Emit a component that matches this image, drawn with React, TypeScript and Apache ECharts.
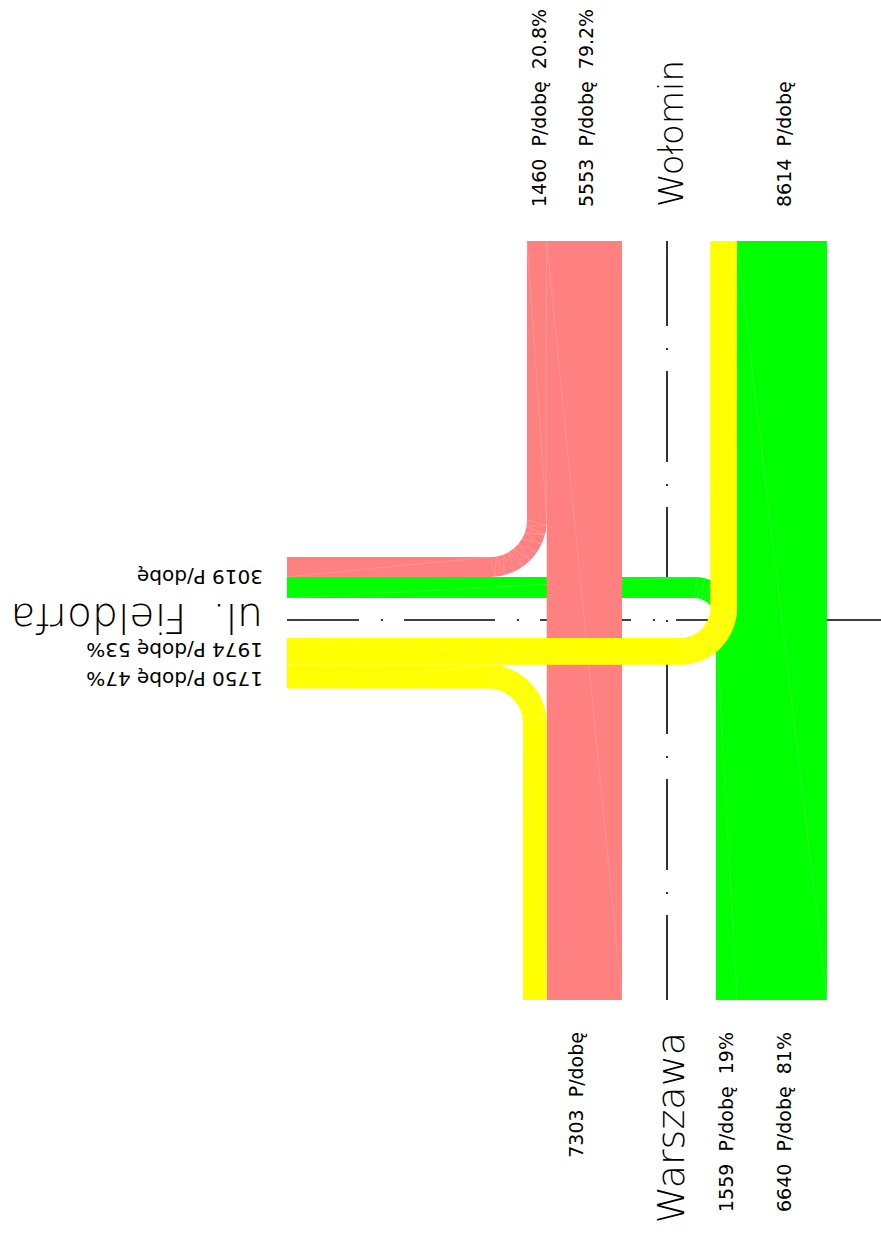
import React, { useEffect, useRef } from "react";
import * as echarts from "echarts";

// ---------------- data ----------------
const places = ["Wołomin", "Warszawa", "ul.  Fieldorfa"];
const movementNames = [
  "Wołomin → ul. Fieldorfa",
  "Wołomin → Warszawa",
  "ul. Fieldorfa → Wołomin",
  "ul. Fieldorfa → Warszawa",
  "Warszawa → ul. Fieldorfa",
  "Warszawa → Wołomin",
];
const volumes = [1460, 5553, 1974, 1750, 1559, 6640];
const unit = "P/dobę";
const colors = ["#FF8080", "#FF8080", "#FFFF00", "#FFFF00", "#00FF00", "#00FF00"];
const drawOrder = [4, 0, 1, 5, 3, 2];

// ---------------- layout ----------------
const W = 881;
const H = 1234;
const K = 0.01355; // px per vehicle/day
const X_C = 667;
const Y_C = 620;
const Y_TOP = 241;
const Y_BOT = 1000;
const X_L = 287;
const X_R = 881;
const SB_EDGE = 622;
const NB_EDGE = 737;
const SIDE_UP = 598;
const SIDE_DN = 638;

const bw = (i: number) => volumes[i] * K;
const sbL = SB_EDGE - bw(1);
const nbR = NB_EDGE + bw(5);
const upOuter = SIDE_UP - bw(4);
const dnOuter = SIDE_DN + bw(2);

type Turn = { cx: number; cy: number; ro: number; ri: number; a0: number; a1: number; e0: number; e1: number };

function mkTurn(ri: number, i: number, ox: number, oy: number, sy: number, a0: number, a1: number, e0: number, e1: number): Turn {
  const ro = ri + bw(i);
  return { cx: ox - ro, cy: oy + sy * ro, ro, ri, a0, a1, e0, e1 };
}

const rad = (a: number) => (a * Math.PI) / 180;
const onArc = (t: Turn, r: number, a: number) => [t.cx + r * Math.cos(rad(a)), t.cy + r * Math.sin(rad(a))];
const legEnd = (t: Turn, r: number, a: number, target: number) => {
  const p = onArc(t, r, a);
  return a === 0 || a === 180 ? [p[0], target] : [target, p[1]];
};
const arcPts = (t: Turn, r: number, from: number, to: number, n = 30) => {
  const pts: number[][] = [];
  for (let k = 0; k <= n; k++) pts.push(onArc(t, r, from + ((to - from) * k) / n));
  return pts;
};

type Shape = { poly: number[][]; seams: number[][][] };

function turnShape(t: Turn): Shape {
  const poly = [
    legEnd(t, t.ro, t.a0, t.e0),
    ...arcPts(t, t.ro, t.a0, t.a1),
    legEnd(t, t.ro, t.a1, t.e1),
    legEnd(t, t.ri, t.a1, t.e1),
    ...arcPts(t, t.ri, t.a1, t.a0),
    legEnd(t, t.ri, t.a0, t.e0),
  ];
  const seams: number[][][] = [
    [legEnd(t, t.ri, t.a0, t.e0), onArc(t, t.ro, t.a0)],
    [onArc(t, t.ri, t.a1), legEnd(t, t.ro, t.a1, t.e1)],
  ];
  const fan: number[][] = [];
  const n = 18;
  for (let k = 0; k <= n; k++) fan.push(onArc(t, k % 2 ? t.ro : t.ri, t.a0 + ((t.a1 - t.a0) * k) / n));
  seams.push(fan);
  return { poly, seams };
}

function rectShape(x0: number, x1: number, y0: number, y1: number): Shape {
  return {
    poly: [[x0, y0], [x1, y0], [x1, y1], [x0, y1]],
    seams: [[[x0, y0], [x1, y1]]],
  };
}

const shapes: Record<number, Shape> = {
  0: turnShape(mkTurn(37, 0, sbL, upOuter, -1, 0, 90, Y_TOP, X_L)),
  1: rectShape(sbL, SB_EDGE, Y_TOP, Y_BOT),
  2: turnShape(mkTurn(30, 2, NB_EDGE, dnOuter, -1, 90, 0, X_L, Y_TOP)),
  3: turnShape(mkTurn(35, 3, sbL, dnOuter, 1, -90, 0, X_L, Y_BOT)),
  4: turnShape(mkTurn(22, 4, NB_EDGE, upOuter, 1, -90, 0, X_L, Y_BOT)),
  5: rectShape(NB_EDGE, nbR, Y_TOP, Y_BOT),
};

// ---------------- labels ----------------
const pct = (v: number, total: number, d: number) => ((v / total) * 100).toFixed(d) + "%";
const sum = (a: number, b: number) => volumes[a] + volumes[b];

const FONT = '"DejaVu Sans", sans-serif';
const SMALL = 19;

function vText(text: string, x: number, y: number, align: string, size: number, weight: any = "normal") {
  return {
    type: "text",
    x,
    y,
    rotation: Math.PI / 2,
    silent: true,
    style: {
      text,
      fill: "#000",
      fontSize: size,
      fontFamily: FONT,
      fontWeight: weight,
      align,
      verticalAlign: "middle",
      textAlign: align,
      textVerticalAlign: "middle",
    },
  };
}
function uText(text: string, x: number, y: number, size: number, weight: any = "normal") {
  const e: any = vText(text, x, y, "left", size, weight);
  e.rotation = Math.PI;
  return e;
}

export default function App() {
  const ref = useRef<HTMLDivElement>(null);
  useEffect(() => {
    if (!ref.current) return;
    const chart = echarts.init(ref.current, undefined, { renderer: "svg" });
    const graphic = [
      vText(`${volumes[0]}  ${unit}  ${pct(volumes[0], sum(0, 1), 1)}`, 539, 207, "left", SMALL),
      vText(`${volumes[1]}  ${unit}  ${pct(volumes[1], sum(0, 1), 1)}`, 586, 207, "left", SMALL),
      vText(places[0], 671, 207, "left", 34, 200),
      vText(`${sum(2, 5)}  ${unit}`, 784, 207, "left", SMALL),
      vText(`${sum(3, 1)}  ${unit}`, 576, 1032, "right", SMALL),
      vText(places[1], 671, 1032, "right", 38, 200),
      vText(`${volumes[4]}  ${unit}  ${pct(volumes[4], sum(4, 5), 0)}`, 726, 1032, "right", SMALL),
      vText(`${volumes[5]}  ${unit}  ${pct(volumes[5], sum(4, 5), 0)}`, 784, 1032, "right", SMALL),
      uText(`${sum(0, 4)} ${unit}`, 263, 577, 20),
      uText(places[2], 263, 618, 41, 200),
      uText(`${volumes[2]} ${unit} ${pct(volumes[2], sum(2, 3), 0)}`, 263, 650, 20),
      uText(`${volumes[3]} ${unit} ${pct(volumes[3], sum(2, 3), 0)}`, 263, 679, 20),
    ];
    chart.setOption({
      animation: false,
      backgroundColor: "#ffffff",
      grid: { left: 0, top: 0, width: W, height: H, containLabel: false },
      xAxis: { type: "value", min: 0, max: W, show: false },
      yAxis: { type: "value", min: 0, max: H, inverse: true, show: false },
      graphic,
      series: [
        {
          name: "oś główna",
          type: "line",
          data: [[X_C, Y_TOP], [X_C, Y_BOT]],
          symbol: "none",
          silent: true,
          z: 1,
          lineStyle: { color: "#000", width: 1.6, type: [91, 22, 2, 21], dashOffset: 6 },
        },
        {
          name: "oś boczna",
          type: "line",
          data: [[X_L, Y_C], [X_R, Y_C]],
          symbol: "none",
          silent: true,
          z: 1,
          lineStyle: { color: "#000", width: 1.6, type: [91, 22, 2, 21], dashOffset: 19 },
        },
        {
          name: "ruch",
          type: "custom",
          coordinateSystem: "cartesian2d",
          silent: true,
          clip: false,
          z: 3,
          data: drawOrder.map((i) => [i, 0, movementNames[i]]),
          renderItem: (_params: any, api: any) => {
            const i = api.value(0) as number;
            const s = shapes[i];
            const children: any[] = [
              {
                type: "polygon",
                shape: { points: s.poly.map((p) => api.coord(p)) },
                style: { fill: colors[i] },
              },
            ];
            s.seams.forEach((line) =>
              children.push({
                type: "polyline",
                shape: { points: line.map((p) => api.coord(p)) },
                style: { stroke: "rgba(255,255,255,0.3)", lineWidth: 0.5, fill: null },
              })
            );
            return { type: "group", children };
          },
        },
      ],
    });
    return () => chart.dispose();
  }, []);
  return <div ref={ref} style={{ position: "absolute", left: 0, top: 0, width: W, height: H }} />;
}
